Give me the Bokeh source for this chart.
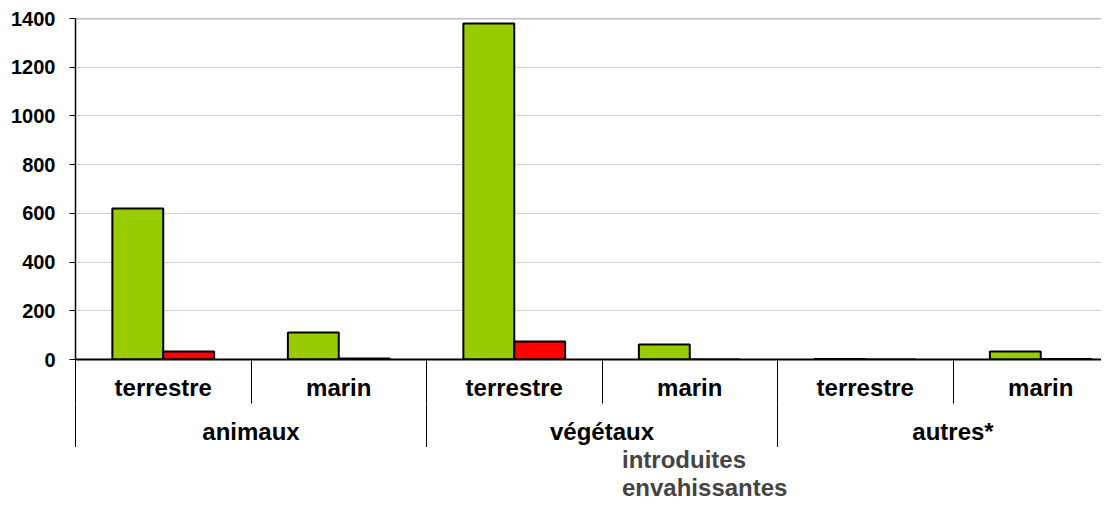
from bokeh.plotting import figure
from bokeh.layouts import column
from bokeh.models import (ColumnDataSource, Range1d, FixedTicker, LinearAxis, Span,
                          Legend, LegendItem)
from bokeh.transform import dodge
from bokeh.embed import file_html
from bokeh.resources import INLINE

groups = ["animaux", "végétaux", "autres*"]
subcats = ["terrestre", "marin"]
series = ["introduites", "envahissantes"]
introduites = [620, 111, 1379, 62, 2, 33]
envahissantes = [33, 4, 74, 0, 0, 2]
y_ticks = [0, 200, 400, 600, 800, 1000, 1200, 1400]
colors = ["#99cc00", "#ff0000"]

n = len(groups) * len(subcats)
sub_labels = [subcats[i % len(subcats)] for i in range(n)]
centers = [i + 0.5 for i in range(n)]
src = ColumnDataSource(dict(x=centers, intro=introduites, env=envahissantes))

FONT = "Liberation Sans"
p = figure(width=1101, height=447,
           output_backend="svg", toolbar_location=None,
           x_range=Range1d(0, 5.846), y_range=Range1d(0, 1400),
           x_axis_location=None, min_border_left=75, min_border_top=18,
           min_border_right=0, min_border_bottom=88)
p.outline_line_color = None
p.background_fill_color = "white"

ya = p.yaxis[0]
ya.ticker = FixedTicker(ticks=y_ticks, minor_ticks=[])
ya.axis_line_color = "black"
ya.axis_line_width = 1.5
ya.major_tick_line_color = "black"
ya.major_tick_in = 0
ya.major_tick_out = 6
ya.minor_tick_line_color = None
ya.major_label_standoff = 14
ya.major_label_text_font = FONT
ya.major_label_text_font_style = "bold"
ya.major_label_text_font_size = "20px"
ya.major_label_text_color = "black"

p.xgrid.grid_line_color = None
p.ygrid.grid_line_color = "#d0d0d0"
p.ygrid.grid_line_width = 1
p.add_layout(Span(location=y_ticks[-1], dimension="width", line_color="#808080", line_width=1.5))

w = 0.29
p.vbar(x=dodge("x", -w / 2), top="intro", width=w, source=src,
       fill_color=colors[0], line_color="black", line_width=2)
p.vbar(x=dodge("x", w / 2), top="env", width=w, source=src,
       fill_color=colors[1], line_color="black", line_width=2)

ax1 = LinearAxis(ticker=FixedTicker(ticks=centers, minor_ticks=list(range(n + 1))))
ax1.major_label_overrides = {c: s for c, s in zip(centers, sub_labels)}
ax1.axis_line_color = "black"
ax1.axis_line_width = 2
ax1.major_tick_line_color = None
ax1.major_tick_in = 0
ax1.major_tick_out = 0
ax1.minor_tick_line_color = "black"
ax1.minor_tick_in = 0
ax1.minor_tick_out = 44
ax1.major_label_standoff = -30
ax1.major_label_text_font = FONT
ax1.major_label_text_font_style = "bold"
ax1.major_label_text_font_size = "24px"
ax1.major_label_text_color = "black"
p.add_layout(ax1, "below")

gcent = [len(subcats) * (g + 0.5) for g in range(len(groups))]
ax2 = LinearAxis(ticker=FixedTicker(ticks=gcent,
                                    minor_ticks=[len(subcats) * g for g in range(len(groups) + 1)]))
ax2.major_label_overrides = {c: s for c, s in zip(gcent, groups)}
ax2.axis_line_color = None
ax2.major_tick_line_color = None
ax2.major_tick_in = 0
ax2.major_tick_out = 0
ax2.minor_tick_line_color = "black"
ax2.minor_tick_in = 0
ax2.minor_tick_out = 45
ax2.major_label_standoff = -31
ax2.major_label_text_font = FONT
ax2.major_label_text_font_style = "bold"
ax2.major_label_text_font_size = "24px"
ax2.major_label_text_color = "black"
p.add_layout(ax2, "below")

# legend strip
p2 = figure(width=1101, height=55, output_backend="svg", toolbar_location=None,
            x_range=Range1d(0, 1), y_range=Range1d(0, 1),
            x_axis_location=None, y_axis_location=None,
            min_border_left=0, min_border_right=0, min_border_top=0, min_border_bottom=0)
p2.outline_line_color = None
p2.xgrid.grid_line_color = None
p2.ygrid.grid_line_color = None
items = []
for name, col in zip(series, colors):
    r = p2.vbar(x=[], top=[], width=0.1, fill_color=col, line_color="black", line_width=2)
    items.append(LegendItem(label=name, renderers=[r]))

legend = Legend(items=items, location=(530, 0), orientation="vertical")
legend.border_line_color = None
legend.background_fill_alpha = 0
legend.label_text_font = FONT
legend.label_text_font_style = "bold"
legend.label_text_font_size = "24px"
legend.label_height = 24
legend.label_standoff = 4
legend.glyph_width = 13
legend.glyph_height = 13
legend.spacing = 0
legend.padding = 0
legend.margin = 0
p2.add_layout(legend, "center")

layout = column(p, p2, spacing=0)
open("out.html", "w").write(file_html(layout, INLINE))
